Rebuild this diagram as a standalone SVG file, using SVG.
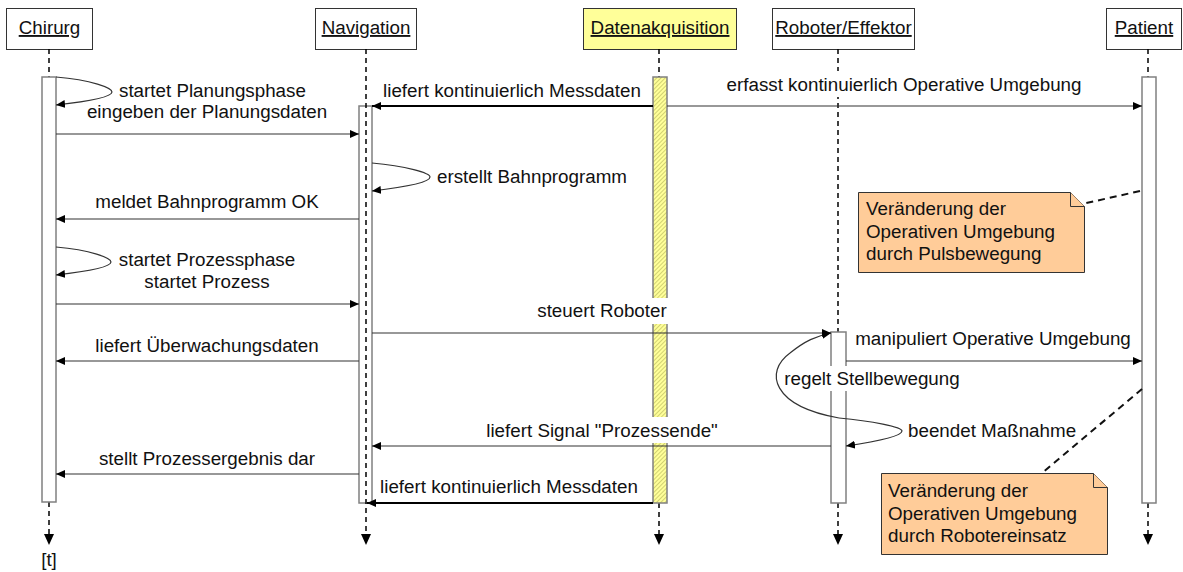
<svg xmlns="http://www.w3.org/2000/svg" width="1183" height="572" viewBox="0 0 1183 572">
  <style>
    .t { font-family: "Liberation Sans", Arial, sans-serif; font-size: 18.8px; fill: #111; }
    .c { text-anchor: middle; }
    .u { text-decoration: underline; }
    .head { fill: #fff; stroke: #333; stroke-width: 1; }
    .head.data { fill: #ffff99; }
    .life { fill: none; stroke: #000; stroke-width: 1.5; stroke-dasharray: 5 4; }
    .bar { fill: #fff; stroke: #808080; stroke-width: 1.5; }
    .bar.data { fill: url(#hatch); }
    .msg { fill: none; stroke: #333; stroke-width: 1.2; marker-end: url(#tip); }
    .msg.bold { stroke: #000; stroke-width: 2.2; }
    .bg { fill: #fff; }
    .note { fill: #ffcc99; stroke: #333; stroke-width: 1; }
    .anchor { fill: none; stroke: #111; stroke-width: 2; stroke-dasharray: 7 5; }
  </style>
  <defs>
    <pattern id="hatch" width="3" height="3" patternUnits="userSpaceOnUse" patternTransform="rotate(45)">
      <rect width="3" height="3" fill="#ffff99"/>
      <line x1="0" y1="0" x2="0" y2="3" stroke="#9a9a40" stroke-width="0.9"/>
    </pattern>
    <marker id="tip" markerUnits="userSpaceOnUse" markerWidth="9" markerHeight="8" refX="9" refY="4" orient="auto">
      <path d="M0,0 L9,4 L0,8 Z" fill="#000"/>
    </marker>
    <marker id="down" markerUnits="userSpaceOnUse" markerWidth="11" markerHeight="10" refX="0" refY="5" orient="auto">
      <path d="M0,0 L11,5 L0,10 Z" fill="#000"/>
    </marker>
  </defs>

  <!-- lifeline: Chirurg -->
  <g id="chirurg">
    <rect class="head" x="6.5" y="8.5" width="86" height="41"/>
    <text class="t c u" x="49.5" y="34">Chirurg</text>
    <line class="life" x1="49" y1="49" x2="49" y2="77"/>
    <line class="life" x1="49" y1="502" x2="49" y2="534" marker-end="url(#down)"/>
    <rect class="bar" x="42" y="77" width="14" height="425"/>
    <text class="t c" x="49" y="566">[t]</text>
  </g>

  <!-- lifeline: Navigation -->
  <g id="navigation">
    <rect class="head" x="315.5" y="8.5" width="101" height="41"/>
    <text class="t c u" x="366" y="34">Navigation</text>
    <rect class="bar" x="359" y="106" width="13" height="397"/>
    <line class="life" x1="366" y1="49" x2="366" y2="534" marker-end="url(#down)"/>
  </g>

  <!-- lifeline: Datenakquisition -->
  <g id="datenakquisition">
    <rect class="head data" x="583.5" y="8.5" width="153" height="41"/>
    <text class="t c u" x="660" y="34">Datenakquisition</text>
    <line class="life" x1="659" y1="49" x2="659" y2="77"/>
    <line class="life" x1="659" y1="503" x2="659" y2="534" marker-end="url(#down)"/>
    <rect class="bar data" x="653" y="77" width="14" height="426"/>
  </g>

  <!-- lifeline: Roboter/Effektor -->
  <g id="roboter">
    <rect class="head" x="772.5" y="8.5" width="142" height="41"/>
    <text class="t c u" x="843.5" y="34">Roboter/Effektor</text>
    <line class="life" x1="838" y1="49" x2="838" y2="332"/>
    <line class="life" x1="838" y1="503" x2="838" y2="534" marker-end="url(#down)"/>
    <rect class="bar" x="831" y="332" width="15" height="171"/>
  </g>

  <!-- lifeline: Patient -->
  <g id="patient">
    <rect class="head" x="1106.5" y="8.5" width="75" height="41"/>
    <text class="t c u" x="1144" y="34">Patient</text>
    <line class="life" x1="1148" y1="49" x2="1148" y2="77"/>
    <line class="life" x1="1148" y1="503" x2="1148" y2="534" marker-end="url(#down)"/>
    <rect class="bar" x="1142" y="77" width="14" height="426"/>
  </g>

  <!-- messages -->
  <g id="connectors">
    <!-- label backgrounds over crossed lines -->
    <rect class="bg" x="723" y="71" width="362" height="26"/>
    <rect class="bg" x="534" y="298" width="136" height="26"/>
    <rect class="bg" x="484" y="417" width="237" height="26"/>
    <rect class="bg" x="783" y="366" width="179" height="25"/>

    <path class="msg" d="M56,77 C92,80 112,88 112,92 C112,97 92,101 56,105"/>
    <text class="t" x="119" y="97">startet Planungsphase</text>
    <text class="t c" x="207" y="118">eingeben der Planungsdaten</text>
    <path class="msg" d="M56,134 H359"/>

    <path class="msg bold" d="M653,106 H372"/>
    <text class="t c" x="512" y="97">liefert kontinuierlich Messdaten</text>
    <path class="msg" d="M667,106 H1142"/>
    <text class="t c" x="904" y="91">erfasst kontinuierlich Operative Umgebung</text>

    <path class="msg" d="M372,163 C406,166 430,173 430,177 C430,182 406,187 372,191"/>
    <text class="t" x="437" y="183">erstellt Bahnprogramm</text>

    <path class="msg" d="M359,219 H56"/>
    <text class="t c" x="207" y="208">meldet Bahnprogramm OK</text>

    <path class="msg" d="M56,247 C91,250 111,258 111,262 C111,267 91,271 56,275"/>
    <text class="t c" x="207" y="266">startet Prozessphase</text>
    <text class="t c" x="207" y="288">startet Prozess</text>
    <path class="msg" d="M56,304 H359"/>

    <path class="msg" d="M372,333 H831"/>
    <text class="t c" x="602" y="317">steuert Roboter</text>

    <path class="msg" d="M359,361 H56"/>
    <text class="t c" x="207" y="352">liefert Überwachungsdaten</text>

    <path class="msg" d="M846,361 H1142"/>
    <text class="t c" x="993" y="345">manipuliert Operative Umgebung</text>

    <path class="msg" d="M839,418 C772,406 764,372 790,353 C805,341 816,336 831,333"/>
    <text class="t c" x="872" y="385">regelt Stellbewegung</text>

    <path class="msg" d="M839,418 C872,421 902,427 902,431 C902,436 880,441 846,446"/>
    <text class="t" x="908" y="437">beendet Maßnahme</text>

    <path class="msg" d="M831,446 H372"/>
    <text class="t c" x="602" y="437">liefert Signal "Prozessende"</text>

    <path class="msg" d="M359,474 H56"/>
    <text class="t c" x="207" y="465">stellt Prozessergebnis dar</text>

    <path class="msg bold" d="M653,503 H367"/>
    <text class="t c" x="509" y="493">liefert kontinuierlich Messdaten</text>

    <!-- note anchors -->
    <line class="anchor" x1="1140" y1="191" x2="1082" y2="204"/>
    <line class="anchor" x1="1142" y1="389" x2="1042" y2="473"/>
  </g>

  <!-- note: pulse movement -->
  <g id="note-puls">
    <path class="note" d="M858.5,192.5 H1070.5 L1084.5,206.5 V272.5 H858.5 Z"/>
    <path class="note" d="M1070.5,192.5 V206.5 H1084.5"/>
    <text class="t" x="866" y="215">Veränderung der</text>
    <text class="t" x="866" y="238">Operativen Umgebung</text>
    <text class="t" x="866" y="260">durch Pulsbewegung</text>
  </g>

  <!-- note: robot intervention -->
  <g id="note-roboter">
    <path class="note" d="M881.5,473.5 H1093.5 L1107.5,487.5 V554.5 H881.5 Z"/>
    <path class="note" d="M1093.5,473.5 V487.5 H1107.5"/>
    <text class="t" x="888" y="497">Veränderung der</text>
    <text class="t" x="888" y="520">Operativen Umgebung</text>
    <text class="t" x="888" y="542">durch Robotereinsatz</text>
  </g>
</svg>
